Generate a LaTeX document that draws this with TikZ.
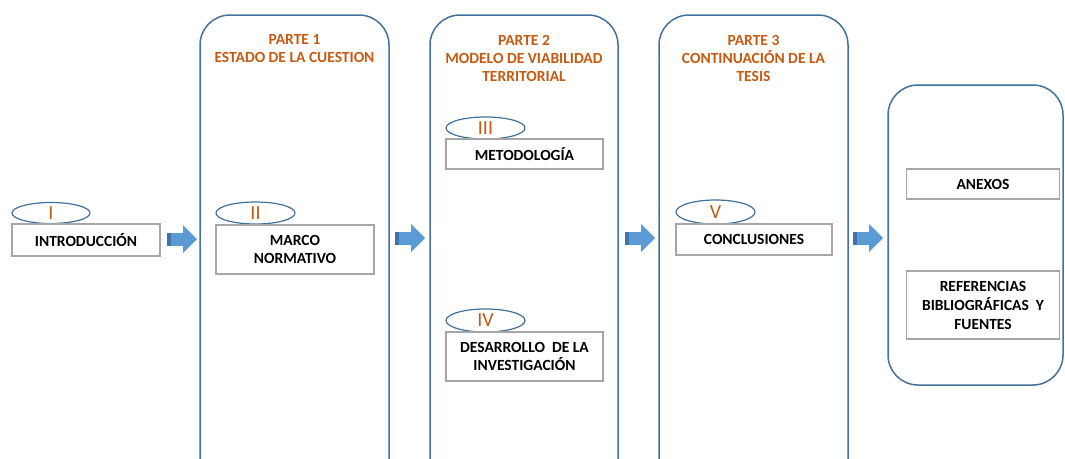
\documentclass[tikz,border=0pt]{standalone}
\usepackage{fontspec}
\setmainfont{Carlito}
\usetikzlibrary{shapes.geometric}
\definecolor{panelblue}{HTML}{41719C}
\definecolor{titleorange}{HTML}{C55A11}
\definecolor{boxgray}{HTML}{A6A6A6}
\definecolor{arrowblue}{HTML}{5B9BD5}
\definecolor{arrowdark}{HTML}{4272A8}
\begin{document}
\begin{tikzpicture}[x=1pt,y=-1pt,
  panel/.style={draw=panelblue, line width=1.5pt, rounded corners=30pt},
  itembox/.style={draw=boxgray, line width=1.5pt, fill=white, align=center,
    font=\bfseries\fontsize{15.5}{18}\selectfont, inner sep=0pt},
  numell/.style={draw=panelblue, line width=1.2pt, ellipse, inner sep=0pt,
    text=titleorange, font=\fontsize{20}{20}\selectfont},
  parttitle/.style={text=titleorange, align=center,
    font=\bfseries\fontsize{15.5}{18}\selectfont, inner sep=0pt},
  blockarr/.pic={
    \fill[arrowblue] (0,-6.5) rectangle (16,6.5);
    \fill[arrowblue] (16,-14) -- (30,0) -- (16,14) -- cycle;
    \fill[arrowdark] (0,-6.5) rectangle (4,6.5);
  }
]
\useasboundingbox (0,0) rectangle (1065,458);
\begin{scope}
\clip (0,0) rectangle (1065,458);
% panels
\draw[panel] (200,15) rectangle (389,490);
\draw[panel] (430,15) rectangle (618,490);
\draw[panel] (659,15) rectangle (848,490);
\draw[panel] (888,85) rectangle (1063,385);

% titles
\node[parttitle] (t1) at (294.5,49) {PARTE 1\\ESTADO DE LA CUESTION};
\node[parttitle] (t2) at (524,58) {PARTE 2\\MODELO DE VIABILIDAD\\TERRITORIAL};
\node[parttitle] (t3) at (753.5,58) {PARTE 3\\CONTINUACIÓN DE LA\\TESIS};

% numeral ellipses
\node[numell, minimum width=78pt, minimum height=21pt] (n1) at (51,213) {I};
\node[numell, minimum width=79pt, minimum height=22pt] (n2) at (255.5,213) {II};
\node[numell, minimum width=79pt, minimum height=22pt] (n3) at (485.5,128) {III};
\node[numell, minimum width=79pt, minimum height=23pt] (n4) at (485.5,320.5) {IV};
\node[numell, minimum width=79pt, minimum height=24pt] (n5) at (715.5,212) {V};

% boxes
\node[itembox, minimum width=148pt, minimum height=32pt] (intro) at (86,240) {INTRODUCCIÓN};
\node[itembox, minimum width=158pt, minimum height=49pt] (marco) at (295,249.5) {MARCO\\NORMATIVO};
\node[itembox, minimum width=157pt, minimum height=30pt] (metodo) at (524.5,154) {METODOLOGÍA};
\node[itembox, minimum width=157pt, minimum height=49pt] (desarr) at (524.5,356.5) {DESARROLLO\ \ DE LA\\INVESTIGACIÓN};
\node[itembox, minimum width=156pt, minimum height=31pt] (concl) at (754,239.5) {CONCLUSIONES};
\node[itembox, minimum width=153pt, minimum height=30pt] (anexos) at (983,184) {ANEXOS};
\node[itembox, minimum width=153pt, minimum height=68pt, font=\bfseries\fontsize{15.5}{19}\selectfont] (refs) at (983,305) {REFERENCIAS\\BIBLIOGRÁFICAS\ \ Y\\FUENTES};

% block arrows
\pic at (167,239) {blockarr};
\pic at (395,238) {blockarr};
\pic at (625,238) {blockarr};
\pic at (853,238) {blockarr};
\end{scope}
\end{tikzpicture}
\end{document}
